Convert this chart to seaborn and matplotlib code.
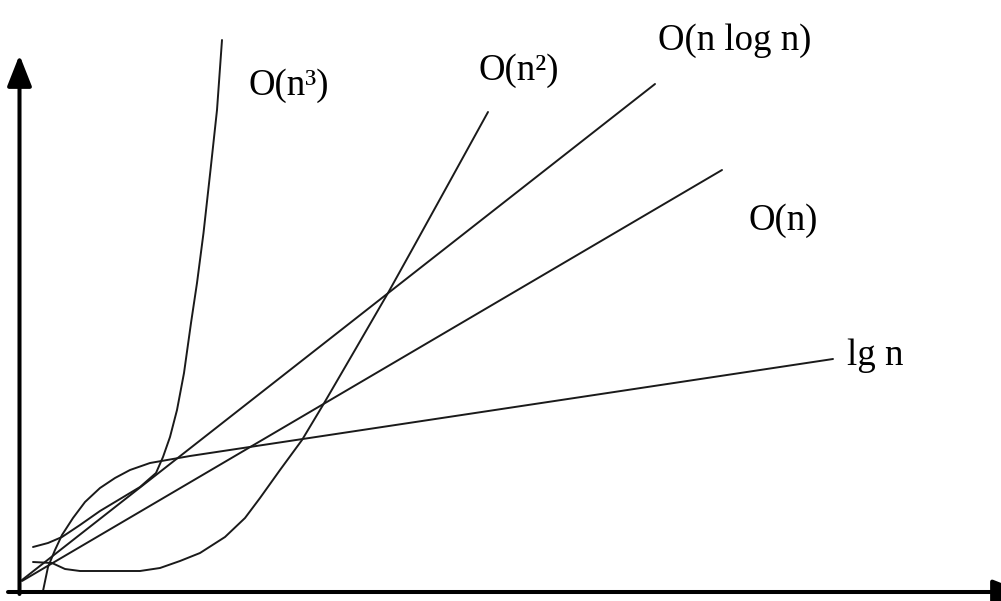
import matplotlib
matplotlib.use('Agg')
import matplotlib.pyplot as plt
import seaborn as sns


# Curves, in chart units (origin at the axes corner)
CUBIC_X = [13, 28, 42, 60, 80, 100, 120, 136, 143, 150, 157, 164, 171, 177, 183.5, 190.5, 197, 202]
CUBIC_Y = [44, 48, 54, 66, 80, 92, 104, 118, 134, 154, 181, 218, 268, 308, 358, 421, 481, 551]

SQUARE_X = [13, 32, 45, 60, 90, 120, 140, 160, 180, 205, 225, 240, 260, 282, 303, 335, 368, 393, 430, 468]
SQUARE_Y = [29, 28, 22, 20, 20, 20, 23, 30, 38, 54, 73, 93, 121, 151, 186, 241, 298, 343, 410, 479]

NLOGN_X = [2, 635]
NLOGN_Y = [11, 507]

LINEAR_X = [2, 702]
LINEAR_Y = [10, 421]

LOG_X = [23, 28, 35, 42, 53, 65, 80, 95, 110, 130, 170, 813]
LOG_Y = [0, 24, 41, 56, 73, 89, 103, 113, 121, 128, 135, 232]

LABELS = ['O(n³)', 'O(n²)', 'O(n log n)', 'O(n)', 'lg n']
LABEL_X = [229, 459, 638, 728, 827]
LABEL_Y = [496, 511, 541, 361, 226]


def main():
    sns.set_theme(style='white')
    plt.rcParams['font.family'] = ['Liberation Serif', 'DejaVu Serif']

    fig = plt.figure(figsize=(10.01, 6.01), dpi=100)
    ax = fig.add_axes([0, 0, 1, 1])
    ax.set_xlim(-20, 981)
    ax.set_ylim(-10, 591)
    ax.set_axis_off()

    curves = [
        (CUBIC_X, CUBIC_Y),
        (SQUARE_X, SQUARE_Y),
        (NLOGN_X, NLOGN_Y),
        (LINEAR_X, LINEAR_Y),
        (LOG_X, LOG_Y),
    ]
    for xs, ys in curves:
        sns.lineplot(x=xs, y=ys, sort=False, estimator=None, ax=ax,
                     color='#1a1a1a', lw=1.4)

    # axes drawn as thick arrows
    arrow = dict(arrowstyle='-|>,head_length=19,head_width=7.5',
                 mutation_scale=1, lw=2.9, color='black',
                 shrinkA=0, shrinkB=0)
    ax.annotate('', xy=(-0.5, 536), xytext=(-0.5, -3), arrowprops=arrow)
    ax.annotate('', xy=(1004, -1), xytext=(-12, -1), arrowprops=arrow,
                annotation_clip=False)

    for label, x, y in zip(LABELS, LABEL_X, LABEL_Y):
        ax.text(x, y, label, fontsize=26.5, ha='left', va='baseline',
                color='black')

    fig.savefig('out.png', dpi=100)


if __name__ == '__main__':
    main()
